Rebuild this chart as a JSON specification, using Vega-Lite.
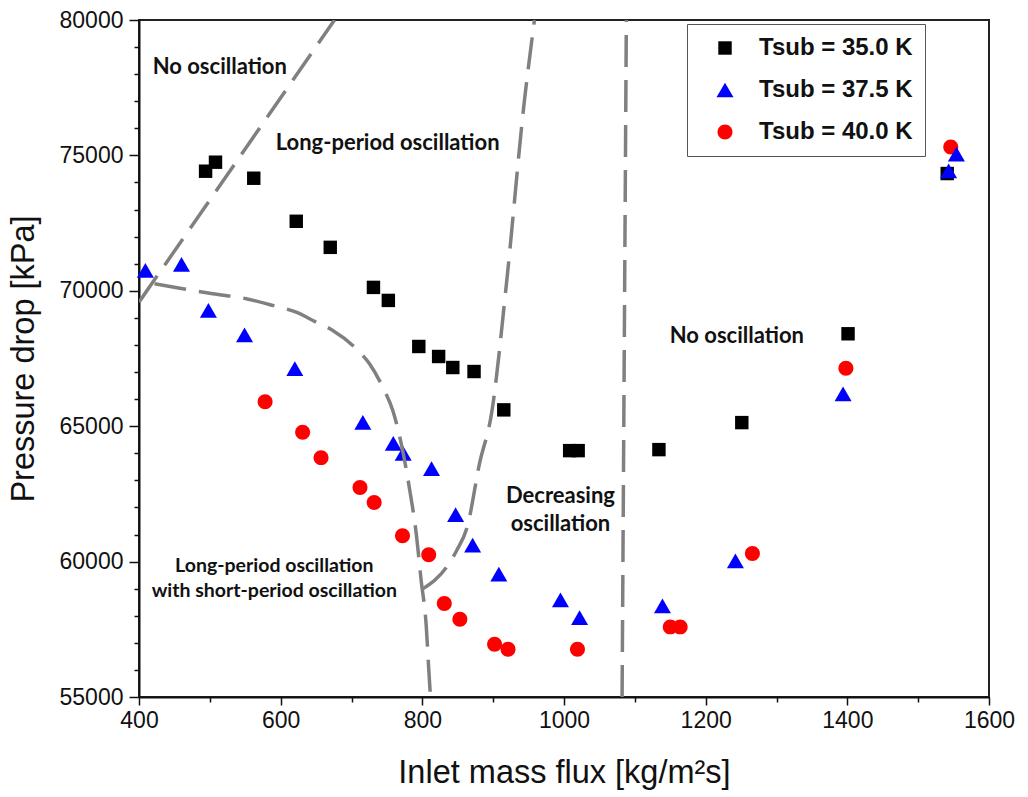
{
  "$schema": "https://vega.github.io/schema/vega-lite/v6.json",
  "width": 850,
  "height": 677,
  "autosize": {"type": "none"},
  "padding": {"left": 139, "top": 20, "right": 39, "bottom": 100},
  "background": "white",
  "config": {
    "view": {"stroke": "#222", "strokeWidth": 2},
    "axis": {
      "grid": false,
      "domainColor": "#111",
      "domainWidth": 2,
      "tickColor": "#111",
      "tickWidth": 1.5,
      "labelFont": "Liberation Sans",
      "labelFontSize": 23,
      "labelColor": "#111",
      "titleFont": "Liberation Sans",
      "titleFontSize": 32.5,
      "titleFontWeight": "normal",
      "titleColor": "#111",
      "labelFlush": false
    },
    "legend": {
      "labelFont": "Liberation Sans",
      "labelFontSize": 24,
      "labelFontWeight": "bold",
      "labelColor": "#111"
    }
  },
  "datasets": {
    "points": [
      {"series": "T_sub = 35.0 K", "flux": 494, "dp": 74416},
      {"series": "T_sub = 35.0 K", "flux": 508, "dp": 74749},
      {"series": "T_sub = 35.0 K", "flux": 562, "dp": 74157},
      {"series": "T_sub = 35.0 K", "flux": 622, "dp": 72567},
      {"series": "T_sub = 35.0 K", "flux": 670, "dp": 71605},
      {"series": "T_sub = 35.0 K", "flux": 731, "dp": 70126},
      {"series": "T_sub = 35.0 K", "flux": 752, "dp": 69645},
      {"series": "T_sub = 35.0 K", "flux": 795, "dp": 67944},
      {"series": "T_sub = 35.0 K", "flux": 823, "dp": 67574},
      {"series": "T_sub = 35.0 K", "flux": 843, "dp": 67167},
      {"series": "T_sub = 35.0 K", "flux": 873, "dp": 67019},
      {"series": "T_sub = 35.0 K", "flux": 915, "dp": 65603},
      {"series": "T_sub = 35.0 K", "flux": 1008, "dp": 64098},
      {"series": "T_sub = 35.0 K", "flux": 1020, "dp": 64098},
      {"series": "T_sub = 35.0 K", "flux": 1134, "dp": 64135},
      {"series": "T_sub = 35.0 K", "flux": 1251, "dp": 65133},
      {"series": "T_sub = 35.0 K", "flux": 1401, "dp": 68413},
      {"series": "T_sub = 35.0 K", "flux": 1541, "dp": 74330},
      {"series": "T_sub = 40.0 K", "flux": 578, "dp": 65900},
      {"series": "T_sub = 40.0 K", "flux": 631, "dp": 64775},
      {"series": "T_sub = 40.0 K", "flux": 657, "dp": 63839},
      {"series": "T_sub = 40.0 K", "flux": 712, "dp": 62740},
      {"series": "T_sub = 40.0 K", "flux": 732, "dp": 62186},
      {"series": "T_sub = 40.0 K", "flux": 772, "dp": 60954},
      {"series": "T_sub = 40.0 K", "flux": 809, "dp": 60251},
      {"series": "T_sub = 40.0 K", "flux": 831, "dp": 58452},
      {"series": "T_sub = 40.0 K", "flux": 853, "dp": 57874},
      {"series": "T_sub = 40.0 K", "flux": 902, "dp": 56948},
      {"series": "T_sub = 40.0 K", "flux": 921, "dp": 56763},
      {"series": "T_sub = 40.0 K", "flux": 1019, "dp": 56763},
      {"series": "T_sub = 40.0 K", "flux": 1150, "dp": 57589},
      {"series": "T_sub = 40.0 K", "flux": 1164, "dp": 57589},
      {"series": "T_sub = 40.0 K", "flux": 1266, "dp": 60300},
      {"series": "T_sub = 40.0 K", "flux": 1398, "dp": 67142},
      {"series": "T_sub = 40.0 K", "flux": 1546, "dp": 75314},
      {"series": "T_sub = 37.5 K", "flux": 409, "dp": 70754},
      {"series": "T_sub = 37.5 K", "flux": 460, "dp": 70976},
      {"series": "T_sub = 37.5 K", "flux": 498, "dp": 69275},
      {"series": "T_sub = 37.5 K", "flux": 549, "dp": 68376},
      {"series": "T_sub = 37.5 K", "flux": 620, "dp": 67130},
      {"series": "T_sub = 37.5 K", "flux": 716, "dp": 65144},
      {"series": "T_sub = 37.5 K", "flux": 759, "dp": 64367},
      {"series": "T_sub = 37.5 K", "flux": 773, "dp": 64000},
      {"series": "T_sub = 37.5 K", "flux": 813, "dp": 63432},
      {"series": "T_sub = 37.5 K", "flux": 847, "dp": 61731},
      {"series": "T_sub = 37.5 K", "flux": 871, "dp": 60610},
      {"series": "T_sub = 37.5 K", "flux": 908, "dp": 59537},
      {"series": "T_sub = 37.5 K", "flux": 995, "dp": 58588},
      {"series": "T_sub = 37.5 K", "flux": 1022, "dp": 57934},
      {"series": "T_sub = 37.5 K", "flux": 1139, "dp": 58366},
      {"series": "T_sub = 37.5 K", "flux": 1242, "dp": 60030},
      {"series": "T_sub = 37.5 K", "flux": 1394, "dp": 66194},
      {"series": "T_sub = 37.5 K", "flux": 1543, "dp": 74427},
      {"series": "T_sub = 37.5 K", "flux": 1554, "dp": 75044}
    ],
    "bounds": [
      {"line": "A", "ord": 1, "flux": 400, "dp": 69580},
      {"line": "A", "ord": 2, "flux": 676, "dp": 80000},
      {"line": "B", "ord": 1, "flux": 421.9, "dp": 70263},
      {"line": "B", "ord": 2, "flux": 461.8, "dp": 70078},
      {"line": "B", "ord": 3, "flux": 504.2, "dp": 69893},
      {"line": "B", "ord": 4, "flux": 551.3, "dp": 69708},
      {"line": "B", "ord": 5, "flux": 588.9, "dp": 69460},
      {"line": "B", "ord": 6, "flux": 621.9, "dp": 69212},
      {"line": "B", "ord": 7, "flux": 650.2, "dp": 68842},
      {"line": "B", "ord": 8, "flux": 673.6, "dp": 68536},
      {"line": "B", "ord": 9, "flux": 706.7, "dp": 67859},
      {"line": "B", "ord": 10, "flux": 725.4, "dp": 67304},
      {"line": "B", "ord": 11, "flux": 744.2, "dp": 66439},
      {"line": "B", "ord": 12, "flux": 758.3, "dp": 65577},
      {"line": "B", "ord": 13, "flux": 770.2, "dp": 64357},
      {"line": "B", "ord": 14, "flux": 781.9, "dp": 62692},
      {"line": "B", "ord": 15, "flux": 791.4, "dp": 61028},
      {"line": "B", "ord": 16, "flux": 798.4, "dp": 59290},
      {"line": "B", "ord": 17, "flux": 805.5, "dp": 57626},
      {"line": "B", "ord": 18, "flux": 809.2, "dp": 55962},
      {"line": "B", "ord": 19, "flux": 811.5, "dp": 55000},
      {"line": "C", "ord": 1, "flux": 800.7, "dp": 58994},
      {"line": "C", "ord": 2, "flux": 835.6, "dp": 59845},
      {"line": "C", "ord": 3, "flux": 848.3, "dp": 60399},
      {"line": "C", "ord": 4, "flux": 863.8, "dp": 61324},
      {"line": "C", "ord": 5, "flux": 880.7, "dp": 63617},
      {"line": "C", "ord": 6, "flux": 897.7, "dp": 65466},
      {"line": "C", "ord": 7, "flux": 918.8, "dp": 70274},
      {"line": "C", "ord": 8, "flux": 944.2, "dp": 77041},
      {"line": "C", "ord": 9, "flux": 958.3, "dp": 80000},
      {"line": "D", "ord": 1, "flux": 1082, "dp": 55000},
      {"line": "D", "ord": 2, "flux": 1088, "dp": 80000}
    ],
    "labels": [
      {"grp": "big", "text": "No oscillation", "flux": 514, "dp": 78262},
      {"grp": "big", "text": "Long-period oscillation", "flux": 751, "dp": 75451},
      {"grp": "big", "text": "No oscillation", "flux": 1244, "dp": 68314},
      {"grp": "big", "text": "Decreasing", "flux": 995, "dp": 62430},
      {"grp": "big", "text": "oscillation", "flux": 995, "dp": 61398},
      {"grp": "small", "text": "Long-period oscillation", "flux": 591, "dp": 59845},
      {"grp": "small", "text": "with short-period oscillation", "flux": 591, "dp": 58920}
    ]
  },
  "resolve": {"axis": {"x": "independent", "y": "independent"}},
  "layer": [
    {
      "data": {"name": "points"},
      "mark": {"type": "point", "filled": true, "opacity": 1, "size": 289, "strokeWidth": 0},
      "encoding": {
        "x": {
          "field": "flux", "type": "quantitative",
          "scale": {"domain": [400, 1600], "nice": false, "zero": false},
          "axis": {
            "orient": "bottom",
            "title": "Inlet mass flux [kg/m²s]",
            "values": [400, 600, 800, 1000, 1200, 1400, 1600],
            "format": "d",
            "tickSize": 8,
            "labelPadding": 4,
            "titlePadding": 24
          }
        },
        "y": {
          "field": "dp", "type": "quantitative",
          "scale": {"domain": [55000, 80000], "nice": false, "zero": false},
          "axis": {
            "orient": "left",
            "title": "Pressure drop [kPa]",
            "values": [55000, 60000, 65000, 70000, 75000, 80000],
            "format": "d",
            "tickSize": 10,
            "labelPadding": 6,
            "titlePadding": 19
          }
        },
        "color": {
          "field": "series", "type": "nominal",
          "scale": {"domain": ["T_sub = 35.0 K", "T_sub = 37.5 K", "T_sub = 40.0 K"], "range": ["#000000", "#0000ff", "#ff0000"]},
          "legend": {
            "title": null,
            "orient": "none",
            "legendX": 548,
            "legendY": 4,
            "labelExpr": "replace(datum.label, 'T_sub', 'Tsub')",
            "strokeColor": "#555",
            "fillColor": "white",
            "padding": 12,
            "rowPadding": 18,
            "symbolSize": 289,
            "symbolOffset": 14,
            "labelOffset": 22,
            "symbolStrokeWidth": 0
          }
        },
        "shape": {
          "field": "series", "type": "nominal",
          "scale": {"domain": ["T_sub = 35.0 K", "T_sub = 37.5 K", "T_sub = 40.0 K"], "range": ["M-0.79,-0.79H0.79V0.79H-0.79Z", "M-1,0.866L1,0.866L0,-0.866Z", "M0.88,0A0.88,0.88 0 1,1 -0.88,0A0.88,0.88 0 1,1 0.88,0Z"]},
          "legend": null
        }
      }
    },
    {
      "data": {"name": "bounds"},
      "mark": {"type": "line", "color": "#808080", "strokeWidth": 3.5, "strokeDash": [32, 13], "clip": true, "interpolate": "monotone"},
      "encoding": {
        "x": {
          "field": "flux", "type": "quantitative",
          "axis": {
            "orient": "bottom",
            "title": null,
            "values": [500, 700, 900, 1100, 1300, 1500],
            "labels": false,
            "domain": false,
            "tickSize": 5
          }
        },
        "y": {
          "field": "dp", "type": "quantitative",
          "axis": {
            "orient": "left",
            "title": null,
            "values": [56000, 57000, 58000, 59000, 61000, 62000, 63000, 64000, 66000, 67000, 68000, 69000, 71000, 72000, 73000, 74000, 76000, 77000, 78000, 79000],
            "labels": false,
            "domain": false,
            "tickSize": 5
          }
        },
        "detail": {"field": "line", "type": "nominal"},
        "order": {"field": "ord", "type": "quantitative"}
      }
    },
    {
      "data": {"name": "labels"},
      "transform": [{"filter": "datum.grp === 'big'"}],
      "mark": {"type": "text", "font": "Lato", "fontWeight": "bold", "fontSize": 22, "align": "center", "baseline": "middle", "color": "#111"},
      "encoding": {
        "x": {"field": "flux", "type": "quantitative", "axis": null},
        "y": {"field": "dp", "type": "quantitative", "axis": null},
        "text": {"field": "text", "type": "nominal"}
      }
    },
    {
      "data": {"name": "labels"},
      "transform": [{"filter": "datum.grp === 'small'"}],
      "mark": {"type": "text", "font": "Lato", "fontWeight": "bold", "fontSize": 19.5, "align": "center", "baseline": "middle", "color": "#111"},
      "encoding": {
        "x": {"field": "flux", "type": "quantitative", "axis": null},
        "y": {"field": "dp", "type": "quantitative", "axis": null},
        "text": {"field": "text", "type": "nominal"}
      }
    }
  ]
}
